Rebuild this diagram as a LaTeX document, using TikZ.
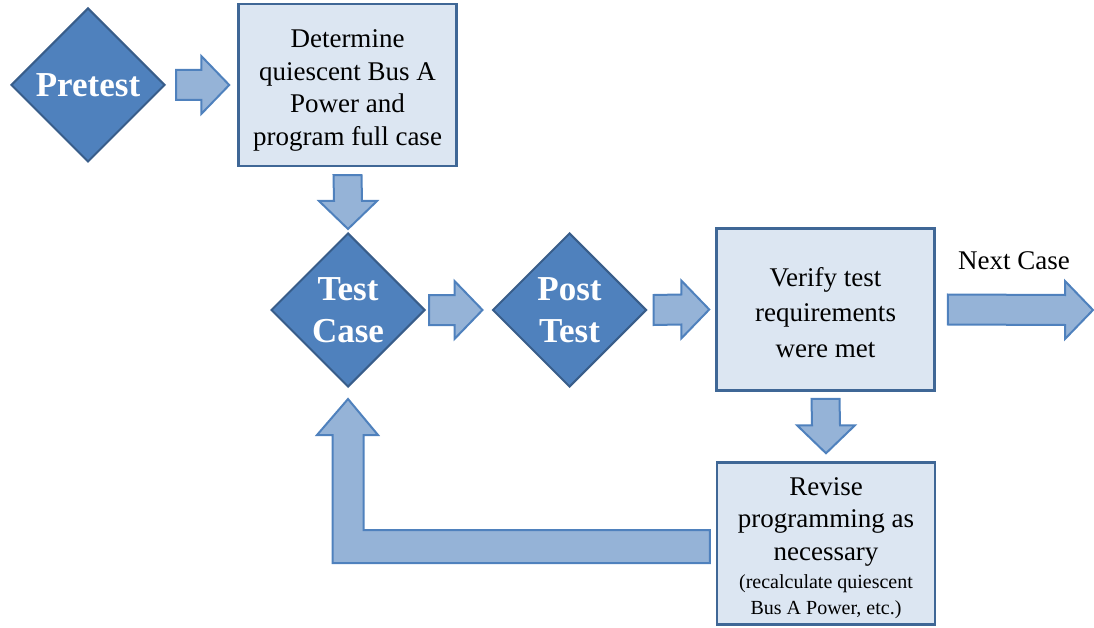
\documentclass[tikz,border=0pt]{standalone}
\usepackage{fontspec}
\setmainfont{Liberation Serif}
\usetikzlibrary{shapes.geometric,calc}
\definecolor{diafill}{HTML}{4F81BD}
\definecolor{diadraw}{HTML}{385D8A}
\definecolor{boxfill}{HTML}{DCE6F2}
\definecolor{boxdraw}{HTML}{3F6796}
\definecolor{arrfill}{HTML}{95B3D7}
\definecolor{arrdraw}{HTML}{4F81BD}
\newcommand\topstrut[1]{\rule{0pt}{#1}}
\newcommand\hblockarrow[2]{%
  \path[blk] ($(#1)+(0,-15)$) -- ($(#2)+(-28,-15)$) -- ($(#2)+(-28,-29)$) -- (#2)
    -- ($(#2)+(-28,29)$) -- ($(#2)+(-28,15)$) -- ($(#1)+(0,15)$) -- cycle;}
\newcommand\vblockarrow[2]{%
  \path[blk] ($(#1)+(-14,0)$) -- ($(#2)+(-14,-28)$) -- ($(#2)+(-29,-28)$) -- (#2)
    -- ($(#2)+(29,-28)$) -- ($(#2)+(14,-28)$) -- ($(#1)+(14,0)$) -- cycle;}
\begin{document}
\begin{tikzpicture}[x=1pt,y=-1pt,
  dia/.style={diamond, aspect=1, minimum width=154pt, minimum height=154pt, inner sep=0pt,
    fill=diafill, draw=diadraw, line width=2pt, text=white, align=center,
    font=\bfseries\fontsize{35}{42}\selectfont},
  box/.style={rectangle, minimum width=218pt, minimum height=162pt, inner sep=0pt,
    fill=boxfill, draw=boxdraw, line width=2.5pt, align=center,
    font=\fontsize{27}{32.5}\selectfont},
  blk/.style={fill=arrfill, draw=arrdraw, line width=2pt, line join=miter},
  lbl/.style={font=\fontsize{27}{32.5}\selectfont, inner sep=0pt}]
\useasboundingbox (0,0) rectangle (1094,628);

% nodes
\node[dia] (pre) at (88,85) {Pretest};
\node[box] (det) at (347.5,85) {\topstrut{29pt}Determine\\quiescent Bus A\\Power and\\program full case};
\node[dia] (tc) at (348,310) {Test\\Case};
\node[dia] (pt) at (569.5,310) {Post\\Test};
\node[box, font=\fontsize{27}{35.5}\selectfont] (ver) at (825.5,309.5) {\topstrut{25pt}Verify test\\requirements\\were met};
\node[box] (rev) at (826,543.5) {\topstrut{27pt}Revise\\programming as\\necessary\\[-4.5pt]
  {\fontsize{20}{26}\selectfont (recalculate quiescent}\\[-6.5pt]
  {\fontsize{20}{26}\selectfont Bus A Power, etc.)}};
\node[lbl] (nx) at (1014,261) {Next Case};

% connector end points
\coordinate (a1t) at ($(pre.east)+(10,0)$);
\coordinate (a1h) at ($(det.west)+(-8,0)$);
\coordinate (d1t) at ($(det.south)+(0,8)$);
\coordinate (d1h) at ($(tc.north)+(0,-3)$);
\coordinate (a2t) at ($(tc.east)+(3,0)$);
\coordinate (a2h) at ($(pt.west)+(-9,0)$);
\coordinate (a3t) at ($(pt.east)+(6,0)$);
\coordinate (a3h) at ($(ver.west)+(-6,0)$);
\coordinate (a4t) at ($(ver.east)+(12,0)$);
\coordinate (a4h) at (1093,310);
\coordinate (d2t) at ($(ver.south)+(0,7)$);
\coordinate (d2h) at ($(rev.north)+(0,-8)$);

% block arrows
\hblockarrow{a1t}{a1h}
\vblockarrow{d1t}{d1h}
\hblockarrow{a2t}{a2h}
\hblockarrow{a3t}{a3h}
\hblockarrow{a4t}{a4h}
\vblockarrow{d2t}{d2h}

% return arrow from Revise back to Test Case
\coordinate (rt) at ($(tc.south)+(0,11)$);
\coordinate (rh) at ($(rev.west)+(-6,3)$);
\coordinate (r1) at ($(rh)+(0,-16.5)$);
\coordinate (r4) at ($(rh)+(0,16.5)$);
\coordinate (r2) at ($(rt)+(15.5,0)$);
\coordinate (r3) at ($(rt)+(-15.5,0)$);
\coordinate (hb) at ($(rt)+(0,36)$);
\path[blk] (r1) -- (r2 |- r1) -- (r2 |- hb) -- ($(hb)+(30,0)$) -- (rt)
  -- ($(hb)+(-31,0)$) -- (r3 |- hb) -- (r3 |- r4) -- (r4) -- cycle;
\end{tikzpicture}
\end{document}
